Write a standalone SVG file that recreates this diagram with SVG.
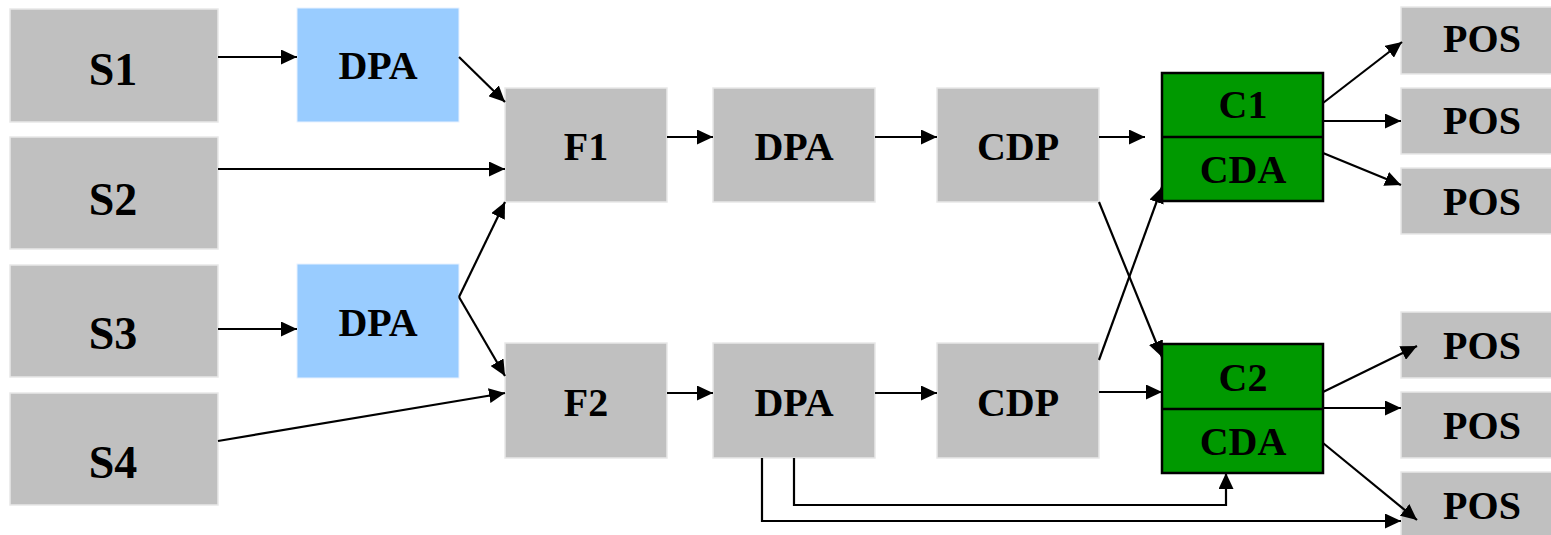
<svg xmlns="http://www.w3.org/2000/svg" width="1551" height="535" viewBox="0 0 1551 535">
<style>
.g{fill:#c0c0c0;stroke:#e8e8e8;stroke-width:1.5}
.b{fill:#99ccff;stroke:#e8f2ff;stroke-width:1}
.c{fill:#009900;stroke:#000;stroke-width:2.5}
.t{font-family:"Liberation Serif","Times New Roman",serif;font-weight:bold;font-size:40px;fill:#000;text-anchor:middle}
.s{font-size:46px}
.e{fill:none;stroke:#000;stroke-width:2.2}
</style>
<defs>
<marker id="a" markerUnits="userSpaceOnUse" markerWidth="17" markerHeight="15" refX="16" refY="7.5" orient="auto">
<path d="M0,0 L16,7.5 L0,15 z" fill="#000"/>
</marker>
</defs>
<rect width="1551" height="535" fill="#fff"/>
<g id="S1"><rect class="g" x="10" y="9" width="208" height="113"/><text class="t s" x="113" y="85">S1</text></g>
<g id="S2"><rect class="g" x="10" y="137" width="208" height="112"/><text class="t s" x="113" y="215">S2</text></g>
<g id="S3"><rect class="g" x="10" y="265" width="208" height="112"/><text class="t s" x="113" y="349">S3</text></g>
<g id="S4"><rect class="g" x="10" y="393" width="208" height="112"/><text class="t s" x="113" y="478">S4</text></g>
<g id="DPA1"><rect class="b" x="297" y="8" width="162" height="114"/><text class="t" x="378" y="79">DPA</text></g>
<g id="DPA2"><rect class="b" x="297" y="264" width="162" height="114"/><text class="t" x="378" y="336">DPA</text></g>
<g id="F1"><rect class="g" x="505" y="88" width="162" height="114"/><text class="t" x="586" y="160">F1</text></g>
<g id="F2"><rect class="g" x="505" y="343" width="162" height="115"/><text class="t" x="586" y="416">F2</text></g>
<g id="DPA3"><rect class="g" x="713" y="88" width="162" height="114"/><text class="t" x="794" y="160">DPA</text></g>
<g id="DPA4"><rect class="g" x="713" y="343" width="162" height="115"/><text class="t" x="794" y="416">DPA</text></g>
<g id="CDP1"><rect class="g" x="937" y="88" width="162" height="114"/><text class="t" x="1018" y="160">CDP</text></g>
<g id="CDP2"><rect class="g" x="937" y="343" width="162" height="115"/><text class="t" x="1018" y="416">CDP</text></g>
<g id="C1"><rect class="c" x="1162" y="73" width="161" height="128"/><line x1="1162" y1="137" x2="1323" y2="137" stroke="#000" stroke-width="2.5"/><text class="t" x="1243" y="118">C1</text><text class="t" x="1243" y="183">CDA</text></g>
<g id="C2"><rect class="c" x="1162" y="344" width="161" height="129"/><line x1="1162" y1="409" x2="1323" y2="409" stroke="#000" stroke-width="2.5"/><text class="t" x="1243" y="391">C2</text><text class="t" x="1243" y="455">CDA</text></g>
<g id="POS1"><rect class="g" x="1401" y="7" width="151" height="67"/><text class="t" x="1482" y="52">POS</text></g>
<g id="POS2"><rect class="g" x="1401" y="88" width="151" height="66"/><text class="t" x="1482" y="134">POS</text></g>
<g id="POS3"><rect class="g" x="1401" y="168" width="151" height="66"/><text class="t" x="1482" y="215">POS</text></g>
<g id="POS4"><rect class="g" x="1401" y="312" width="151" height="66"/><text class="t" x="1482" y="359">POS</text></g>
<g id="POS5"><rect class="g" x="1401" y="392" width="151" height="66"/><text class="t" x="1482" y="439">POS</text></g>
<g id="POS6"><rect class="g" x="1401" y="472" width="151" height="66"/><text class="t" x="1482" y="519">POS</text></g>
<g id="connectors" class="e" marker-end="url(#a)">
<line x1="218" y1="57" x2="297" y2="57"/>
<line x1="459" y1="57" x2="505" y2="102"/>
<line x1="218" y1="169" x2="505" y2="169"/>
<line x1="459" y1="297" x2="505" y2="202"/>
<line x1="459" y1="297" x2="505" y2="376"/>
<line x1="218" y1="329" x2="297" y2="329"/>
<line x1="218" y1="441" x2="505" y2="393"/>
<line x1="667" y1="137" x2="713" y2="137"/>
<line x1="667" y1="393" x2="713" y2="393"/>
<line x1="875" y1="137" x2="937" y2="137"/>
<line x1="875" y1="393" x2="937" y2="393"/>
<line x1="1099" y1="137" x2="1145" y2="137"/>
<line x1="1099" y1="202" x2="1162" y2="357"/>
<line x1="1099" y1="360" x2="1162" y2="187"/>
<line x1="1099" y1="392" x2="1162" y2="392"/>
<line x1="1323" y1="103" x2="1402" y2="42"/>
<line x1="1323" y1="121" x2="1401" y2="121"/>
<line x1="1323" y1="153" x2="1401" y2="185"/>
<line x1="1323" y1="392" x2="1417" y2="346"/>
<line x1="1323" y1="408" x2="1401" y2="408"/>
<line x1="1323" y1="443" x2="1417" y2="520"/>
<polyline points="794,458 794,505 1226,505 1226,473"/>
<polyline points="762,458 762,521 1401,521"/>
</g>
</svg>
